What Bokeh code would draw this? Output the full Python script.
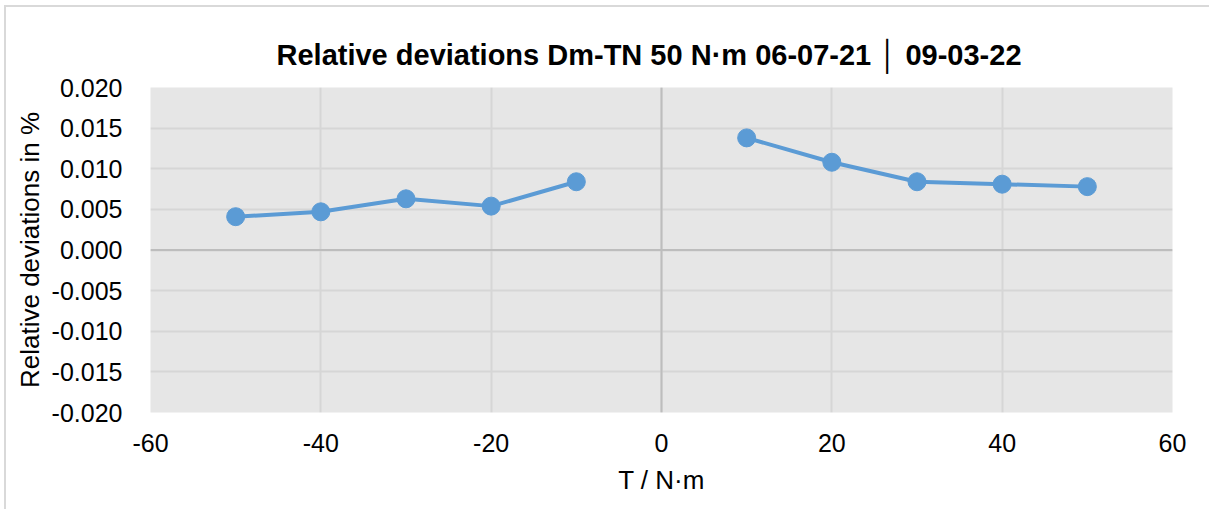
from bokeh.plotting import figure
from bokeh.models import FixedTicker, Span, NumeralTickFormatter
from bokeh.embed import file_html
from bokeh.resources import INLINE

torque_neg = [-50, -40, -30, -20, -10]
dev_neg = [0.0041, 0.0047, 0.0063, 0.0054, 0.0084]
torque_pos = [10, 20, 30, 40, 50]
dev_pos = [0.0138, 0.0108, 0.0084, 0.0081, 0.0078]
x_ticks = [-60, -40, -20, 0, 20, 40, 60]
y_ticks = [-0.020, -0.015, -0.010, -0.005, 0.000, 0.005, 0.010, 0.015, 0.020]

title = "Relative deviations Dm-TN 50 N\u00b7m 06-07-21 \u2502 09-03-22"
x_label = "T / N\u00b7m"
y_label = "Relative deviations in %"
blue = "#5B9BD5"
FONT = "Liberation Sans"

shift_x, shift_y = 6, 7
p = figure(width=1211 - shift_x, height=511 - shift_y, output_backend="svg", toolbar_location=None,
           x_range=(-60, 60), y_range=(-0.020, 0.020),
           min_border_left=150 - shift_x, min_border_right=39, min_border_top=87 - shift_y, min_border_bottom=99,
           background_fill_color="#E6E6E6", border_fill_color="white",
           styles={"margin-left": "4px", "margin-top": "5px",
                   "border-left": "2px solid #D9D9D9", "border-top": "2px solid #D9D9D9"})
p.outline_line_color = None

p.title.text = title
p.title.align = "left"
p.title.text_font = FONT
p.title.text_font_size = "29px"
p.title.text_font_style = "bold"
p.title.text_color = "black"
p.title.standoff = 34
p.title.offset = 126

p.xaxis.ticker = FixedTicker(ticks=x_ticks)
p.yaxis.ticker = FixedTicker(ticks=y_ticks)
p.xaxis.formatter = NumeralTickFormatter(format="0")
p.yaxis.formatter = NumeralTickFormatter(format="0.000")
for ax in (p.xaxis, p.yaxis):
    ax.axis_line_color = None
    ax.major_tick_line_color = None
    ax.minor_tick_line_color = None
    ax.major_label_text_font = FONT
    ax.major_label_text_font_size = "25px"
    ax.major_label_text_color = "black"
    ax.axis_label_text_font = FONT
    ax.axis_label_text_font_size = "26px"
    ax.axis_label_text_font_style = "normal"
    ax.axis_label_text_color = "black"
p.xaxis.major_label_standoff = 15
p.yaxis.major_label_standoff = 22
p.xaxis.axis_label = x_label
p.yaxis.axis_label = y_label
p.xaxis.axis_label_standoff = 10
p.yaxis.axis_label_standoff = 4

p.xgrid.grid_line_color = "#D6D6D6"
p.ygrid.grid_line_color = "#D6D6D6"
p.xgrid.grid_line_width = 2
p.ygrid.grid_line_width = 2

p.add_layout(Span(location=0, dimension="height", line_color="#BDBDBD", line_width=2))
p.add_layout(Span(location=0, dimension="width", line_color="#BDBDBD", line_width=2))

for xs, ys in ((torque_neg, dev_neg), (torque_pos, dev_pos)):
    p.line(xs, ys, line_color=blue, line_width=4)
    p.scatter(xs, ys, size=18, fill_color=blue, line_color=blue)

open("out.html", "w").write(file_html(p, INLINE))
